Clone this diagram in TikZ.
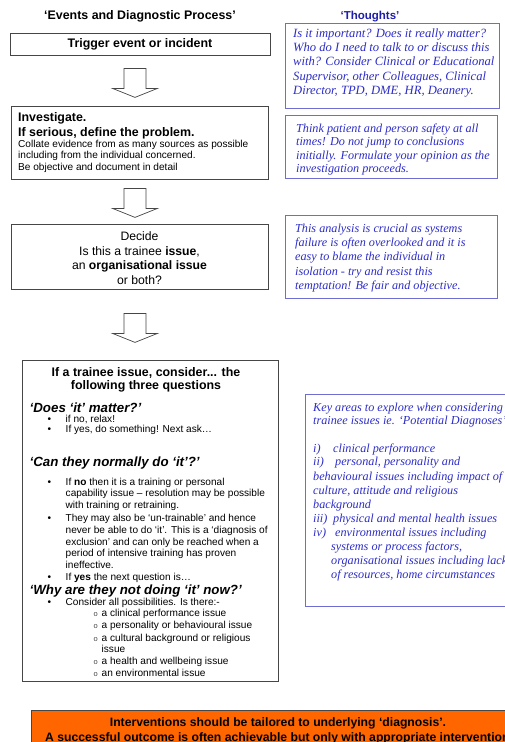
\documentclass[tikz,border=0pt]{standalone}
\usepackage{fontspec}
\setmainfont{Liberation Sans}
\newfontfamily\thserif{Liberation Serif}
\usetikzlibrary{calc}
\definecolor{thblue}{RGB}{45,45,200}
\definecolor{thtitle}{RGB}{30,30,170}
\definecolor{thborder}{RGB}{110,110,210}
\definecolor{boxgray}{RGB}{70,70,70}
\definecolor{orng}{RGB}{255,102,0}
\tikzset{
  leftbox/.style={draw=boxgray, line width=0.8pt, inner sep=0pt},
  thbox/.style={draw=thborder, line width=0.8pt, inner sep=0pt},
  ln/.style={anchor=base west, inner sep=0pt},
  lnc/.style={anchor=base, inner sep=0pt},
  hfont/.style={font=\bfseries\fontsize{12.4}{14}\selectfont},
  bfont/.style={font=\fontsize{10.1}{11}\selectfont},
  qfont/.style={font=\bfseries\itshape\fontsize{13.3}{15}\selectfont},
  thfont/.style={font=\thserif\itshape\fontsize{12.2}{14}\selectfont, text=thblue},
  thfontA/.style={font=\thserif\itshape\fontsize{12.6}{14}\selectfont, text=thblue},
  blockarrow/.pic={\draw[boxgray, line width=0.7pt, line join=miter]
    (-11,0) -- (11,0) -- (11,20) -- (22.5,20) -- (0,29) -- (-22.5,20) -- (-11,20) -- cycle;}
}
\begin{document}
\begin{tikzpicture}[x=1pt,y=-1pt]
\useasboundingbox (0,0) rectangle (505,742);
\clip (0,0) rectangle (505,742);
\fill[white] (0,0) rectangle (505,742);

% titles
\node[lnc, hfont] (title) at (140,19.5) {‘Events and Diagnostic Process’};
\node[lnc, font=\bfseries\fontsize{11.5}{13}\selectfont, text=thtitle] (thtitle) at (370,19.5) {‘Thoughts’};

% left boxes
\node[leftbox, minimum width=260pt, minimum height=22pt] (trig) at (140,44) {};
\node[hfont] (trigt) at (trig.center) {Trigger event or incident};

\node[leftbox, minimum width=257pt, minimum height=73pt] (inv) at (139.5,142.5) {};
\node[ln, hfont] (inv1) at (18,121.3) {Investigate.};
\node[ln, hfont] (inv2) at (18,136) {If serious, define the problem.};
\node[ln, bfont] (inv3) at (18,147.7) {Collate evidence from as many sources as possible};
\node[ln, bfont] (inv4) at (18,158.4) {including from the individual concerned.};
\node[ln, bfont] (inv5) at (18,170) {Be objective and document in detail};

\node[leftbox, minimum width=257pt, minimum height=65pt] (dec) at (139.5,256.5) {};
\begin{scope}[every node/.style={lnc, font=\fontsize{12.2}{14}\selectfont}]
\node (dec1) at (139.5,240.5) {Decide};
\node (dec2) at (139.5,255.5) {Is this a trainee \textbf{issue},};
\node (dec3) at (139.5,269.5) {an \textbf{organisational issue}};
\node (dec4) at (139.5,284) {or both?};
\end{scope}

% block arrows
\pic at ($(trig.south)+(-5,13)$) {blockarrow};
\pic at ($(inv.south)+(-4.5,9)$) {blockarrow};
\pic at ($(dec.south)+(-4.5,24)$) {blockarrow};

% trainee box
\node[leftbox, minimum width=256pt, minimum height=321pt] (trn) at (150,520.5) {};
\node[lnc, font=\bfseries\fontsize{12.4}{14}\selectfont] (trh1) at (146,376) {If a trainee issue, consider... the};
\node[lnc, font=\bfseries\fontsize{12.4}{14}\selectfont] (trh2) at (146,389.5) {following three questions};

\node[ln, qfont] (q1) at (29.5,412) {‘Does ‘it’ matter?’};
\node[ln, qfont] (q2) at (29.5,466.5) {‘Can they normally do ‘it’?’};
\node[ln, qfont] (q3) at (29.5,594.5) {‘Why are they not doing ‘it’ now?’};

\begin{scope}[every node/.style={ln, bfont}]
\foreach \yy in {422,432.5,485.5,521.5,580.5,605}
  \node (bul\yy) at (47.5,\yy) {•};
\node (t1) at (65.5,422) {if no, relax!};
\node (t2) at (65.5,432.5) {If yes, do something! Next ask…};
\node (t3) at (65.5,485.5) {If \textbf{no} then it is a training or personal};
\node (t4) at (65.5,496.8) {capability issue – resolution may be possible};
\node (t5) at (65.5,508.5) {with training or retraining.};
\node (t6) at (65.5,521.5) {They may also be ‘un-trainable’ and hence};
\node (t7) at (65.5,533.3) {never be able to do ‘it’. This is a ‘diagnosis of};
\node (t8) at (65.5,545) {exclusion’ and can only be reached when a};
\node (t9) at (65.5,556.7) {period of intensive training has proven};
\node (t10) at (65.5,568.5) {ineffective.};
\node (t11) at (65.5,580.5) {If \textbf{yes} the next question is…};
\node (t12) at (65.5,605) {Consider all possibilities. Is there:-};
\node (s1) at (101.5,616.5) {a clinical performance issue};
\node (s2) at (101.5,628.5) {a personality or behavioural issue};
\node (s3) at (101.5,641.3) {a cultural background or religious};
\node (s4) at (101.5,652.5) {issue};
\node (s5) at (101.5,664) {a health and wellbeing issue};
\node (s6) at (101.5,676) {an environmental issue};
\end{scope}
\foreach \yy in {616.5,628.5,641.3,664,676}
  \node[ln, font=\fontsize{7.5}{8}\selectfont, text=boxgray] (sb\yy) at (93.5,\yy) {o};

% thoughts boxes
\node[thbox, minimum width=214pt, minimum height=85pt] (th1) at (392,65.5) {};
\node[thbox, minimum width=212pt, minimum height=63pt] (th2) at (391,146.5) {};
\node[thbox, minimum width=212pt, minimum height=83pt] (th3) at (391,256.5) {};
\node[thbox, minimum width=220pt, minimum height=212pt] (th4) at (415,500) {};

\begin{scope}[every node/.style={ln, thfontA}]
\node (a1) at (293,37) {Is it important? Does it really matter?};
\node (a2) at (293,51.2) {Who do I need to talk to or discuss this};
\node (a3) at (293,65.6) {with? Consider Clinical or Educational};
\node (a4) at (293,80) {Supervisor, other Colleagues, Clinical};
\node (a5) at (293,94) {Director, TPD, DME, HR, Deanery.};
\end{scope}
\begin{scope}[every node/.style={ln, thfont}]
\node (b1) at (296,132.3) {Think patient and person safety at all};
\node (b2) at (296,145.7) {times! Do not jump to conclusions};
\node (b3) at (296,159) {initially. Formulate your opinion as the};
\node (b4) at (296,172.3) {investigation proceeds.};

\node (c1) at (295,232.3) {This analysis is crucial as systems};
\node (c2) at (295,246.7) {failure is often overlooked and it is};
\node (c3) at (295,260.7) {easy to blame the individual in};
\node (c4) at (295,275) {isolation - try and resist this};
\node (c5) at (295,289) {temptation! Be fair and objective.};

\node (d1) at (313,411.3) {Key areas to explore when considering};
\node (d2) at (313,424.7) {trainee issues ie. ‘Potential Diagnoses’};
\node (d3) at (313,452.3) {i)};
\node (d3b) at (333,452.3) {clinical performance};
\node (d4) at (313,465.7) {ii)};
\node (d4b) at (335,465.7) {personal, personality and};
\node (d5) at (313,480) {behavioural issues including impact of};
\node (d6) at (313,494) {culture, attitude and religious};
\node (d7) at (313,508) {background};
\node (d8) at (313,522.3) {iii)};
\node (d8b) at (333,522.3) {physical and mental health issues};
\node (d9) at (313,536.7) {iv)};
\node (d9b) at (335,536.7) {environmental issues including};
\node (d10) at (331,550.7) {systems or process factors,};
\node (d11) at (331,564) {organisational issues including lack};
\node (d12) at (331,578) {of resources, home circumstances};
\end{scope}

% bottom orange box
\node[draw=boxgray, line width=0.6pt, fill=orng, minimum width=494pt, minimum height=60pt, inner sep=0pt] (out) at (278,740) {};
\node[lnc, font=\bfseries\fontsize{12.2}{14}\selectfont] (out1) at (278,726) {Interventions should be tailored to underlying ‘diagnosis’.};
\node[ln, font=\bfseries\fontsize{12.2}{14}\selectfont] (out2) at (45,741) {A successful outcome is often achievable but only with appropriate intervention.};
\end{tikzpicture}
\end{document}
